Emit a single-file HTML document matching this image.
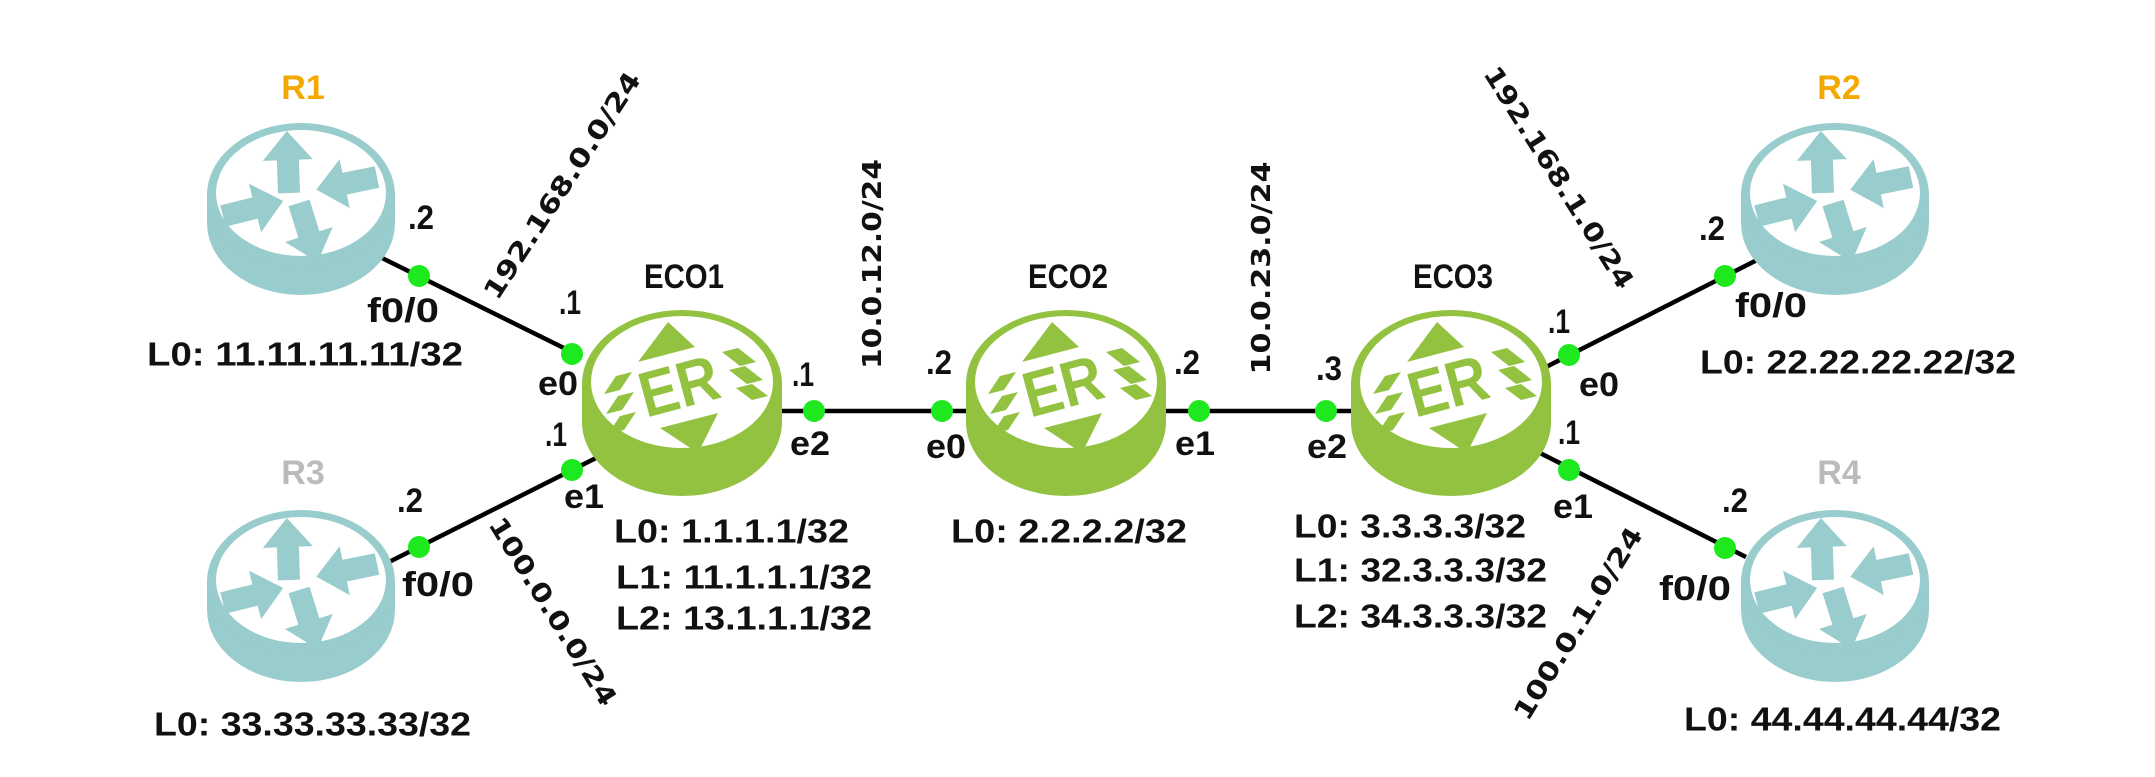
<!DOCTYPE html>
<html><head><meta charset="utf-8"><style>
html,body{margin:0;padding:0;background:#fff;width:2155px;height:777px;overflow:hidden}
svg{display:block}
.t{font-family:"Liberation Sans",sans-serif;font-weight:bold;fill:#111}
.n{font-family:"DejaVu Sans","Liberation Sans",sans-serif;font-weight:bold;fill:#111;font-size:26px}
</style></head><body>
<svg width="2155" height="777" viewBox="0 0 2155 777" xmlns="http://www.w3.org/2000/svg">
<defs>
<path id="arr" d="M0,-11 L33,-11 L33,-25 L62,0 L33,25 L33,11 L0,11 z" fill="#99cccc"/>
<g id="cisco">
<ellipse cx="0" cy="28" rx="94" ry="72" fill="#99cccc"/>
<rect x="-94" y="0" width="188" height="28" fill="#99cccc"/>
<ellipse cx="0" cy="0" rx="94" ry="72" fill="#99cccc"/>
<ellipse cx="0" cy="-2" rx="85" ry="63" fill="#fff"/>
<use href="#arr" transform="translate(-12,-2) rotate(-92)"/>
<use href="#arr" transform="translate(-2,8) rotate(72.6)"/>
<use href="#arr" transform="translate(-78,21) rotate(-14)"/>
<use href="#arr" transform="translate(76,-18) rotate(168.3)"/>
</g>
<g id="eco">
<ellipse cx="0" cy="38" rx="100" ry="74" fill="#93c240"/>
<rect x="-100" y="0" width="200" height="38" fill="#93c240"/>
<ellipse cx="0" cy="0" rx="100" ry="74" fill="#93c240"/>
<ellipse cx="0" cy="-2" rx="91" ry="66" fill="#fff"/>
<g fill="#93c240">
<polygon points="-14,-62 -44,-22 13,-37"/>
<polygon points="-22,44 36,29 16,69"/>
<text x="-2" y="24" text-anchor="middle" transform="rotate(-15 -2 6)" font-family="Liberation Sans,sans-serif" font-weight="bold" font-size="64" textLength="80" lengthAdjust="spacingAndGlyphs">ER</text>
<polygon points="-66,-8 -50,-12 -62,6 -78,10"/>
<polygon points="-64,12 -48,8 -60,26 -76,30"/>
<polygon points="-62,32 -46,28 -58,46 -74,50"/>
<polygon points="40,-32 56,-36 74,-22 58,-18"/>
<polygon points="47,-14 63,-18 81,-4 65,0"/>
<polygon points="54,4 70,0 86,12 70,16"/>
</g>
</g>
</defs>

<g stroke="#000" stroke-width="4.5">
<line x1="382" y1="258" x2="580" y2="356"/>
<line x1="389" y1="562" x2="596" y2="458"/>
<line x1="780" y1="411" x2="968" y2="411"/>
<line x1="1164" y1="411" x2="1354" y2="411"/>
<line x1="1546" y1="367" x2="1757" y2="260"/>
<line x1="1536" y1="451" x2="1746" y2="557"/>
</g>

<use href="#cisco" x="301" y="195"/>
<use href="#cisco" x="301" y="582"/>
<use href="#cisco" x="1835" y="195"/>
<use href="#cisco" x="1835" y="582"/>
<use href="#eco" x="682" y="384"/>
<use href="#eco" x="1066" y="384"/>
<use href="#eco" x="1451" y="384"/>

<g fill="#1ee81e">
<circle cx="419" cy="276" r="11"/>
<circle cx="572" cy="354" r="11"/>
<circle cx="572" cy="470" r="11"/>
<circle cx="419" cy="547" r="11"/>
<circle cx="814" cy="411" r="11"/>
<circle cx="942" cy="411" r="11"/>
<circle cx="1199" cy="411" r="11"/>
<circle cx="1326" cy="411" r="11"/>
<circle cx="1569" cy="355" r="11"/>
<circle cx="1725" cy="276" r="11"/>
<circle cx="1569" cy="470" r="11"/>
<circle cx="1725" cy="548" r="11"/>
</g>

<g class="t" font-size="34" text-anchor="middle" dominant-baseline="central">
<text x="303" y="88" style="fill:#f5a800">R1</text>
<text x="303" y="473" style="fill:#bbbbbb">R3</text>
<text x="1839" y="88" style="fill:#f5a800">R2</text>
<text x="1839" y="473" style="fill:#bbbbbb">R4</text>
<text x="684" y="277" textLength="80" lengthAdjust="spacingAndGlyphs">ECO1</text>
<text x="1068" y="277" textLength="80" lengthAdjust="spacingAndGlyphs">ECO2</text>
<text x="1453" y="277" textLength="80" lengthAdjust="spacingAndGlyphs">ECO3</text>
</g>

<g class="t" font-size="34" text-anchor="middle" dominant-baseline="central">
<text x="421" y="218" textLength="26" lengthAdjust="spacingAndGlyphs">.2</text>
<text x="403" y="311" textLength="72" lengthAdjust="spacingAndGlyphs">f0/0</text>
<text x="570" y="303" textLength="22" lengthAdjust="spacingAndGlyphs">.1</text>
<text x="558" y="384" textLength="40" lengthAdjust="spacingAndGlyphs">e0</text>
<text x="556" y="435" textLength="22" lengthAdjust="spacingAndGlyphs">.1</text>
<text x="584" y="497" textLength="40" lengthAdjust="spacingAndGlyphs">e1</text>
<text x="410" y="501" textLength="26" lengthAdjust="spacingAndGlyphs">.2</text>
<text x="438" y="585" textLength="72" lengthAdjust="spacingAndGlyphs">f0/0</text>
<text x="803" y="375" textLength="22" lengthAdjust="spacingAndGlyphs">.1</text>
<text x="810" y="444" textLength="40" lengthAdjust="spacingAndGlyphs">e2</text>
<text x="939" y="363" textLength="26" lengthAdjust="spacingAndGlyphs">.2</text>
<text x="946" y="447" textLength="40" lengthAdjust="spacingAndGlyphs">e0</text>
<text x="1187" y="363" textLength="26" lengthAdjust="spacingAndGlyphs">.2</text>
<text x="1195" y="444" textLength="40" lengthAdjust="spacingAndGlyphs">e1</text>
<text x="1329" y="369" textLength="26" lengthAdjust="spacingAndGlyphs">.3</text>
<text x="1327" y="447" textLength="40" lengthAdjust="spacingAndGlyphs">e2</text>
<text x="1559" y="322" textLength="22" lengthAdjust="spacingAndGlyphs">.1</text>
<text x="1599" y="385" textLength="40" lengthAdjust="spacingAndGlyphs">e0</text>
<text x="1569" y="433" textLength="22" lengthAdjust="spacingAndGlyphs">.1</text>
<text x="1573" y="507" textLength="40" lengthAdjust="spacingAndGlyphs">e1</text>
<text x="1712" y="229" textLength="26" lengthAdjust="spacingAndGlyphs">.2</text>
<text x="1771" y="306" textLength="72" lengthAdjust="spacingAndGlyphs">f0/0</text>
<text x="1735" y="501" textLength="26" lengthAdjust="spacingAndGlyphs">.2</text>
<text x="1695" y="589" textLength="72" lengthAdjust="spacingAndGlyphs">f0/0</text>
</g>

<g class="t" font-size="33" dominant-baseline="central">
<text x="147" y="354" textLength="316" lengthAdjust="spacingAndGlyphs">L0: 11.11.11.11/32</text>
<text x="154" y="724" textLength="317" lengthAdjust="spacingAndGlyphs">L0: 33.33.33.33/32</text>
<text x="614" y="531" textLength="235" lengthAdjust="spacingAndGlyphs">L0: 1.1.1.1/32</text>
<text x="616" y="577" textLength="256" lengthAdjust="spacingAndGlyphs">L1: 11.1.1.1/32</text>
<text x="616" y="618" textLength="256" lengthAdjust="spacingAndGlyphs">L2: 13.1.1.1/32</text>
<text x="951" y="531" textLength="236" lengthAdjust="spacingAndGlyphs">L0: 2.2.2.2/32</text>
<text x="1294" y="526" textLength="232" lengthAdjust="spacingAndGlyphs">L0: 3.3.3.3/32</text>
<text x="1294" y="570" textLength="253" lengthAdjust="spacingAndGlyphs">L1: 32.3.3.3/32</text>
<text x="1294" y="616" textLength="253" lengthAdjust="spacingAndGlyphs">L2: 34.3.3.3/32</text>
<text x="1700" y="362" textLength="316" lengthAdjust="spacingAndGlyphs">L0: 22.22.22.22/32</text>
<text x="1684" y="719" textLength="317" lengthAdjust="spacingAndGlyphs">L0: 44.44.44.44/32</text>
</g>

<g class="n" text-anchor="middle" dominant-baseline="central">
<text x="0" y="0" transform="translate(563,186) rotate(-57)" textLength="265" lengthAdjust="spacingAndGlyphs">192.168.0.0/24</text>
<text x="0" y="0" transform="translate(552,612) rotate(58)" textLength="217" lengthAdjust="spacingAndGlyphs">100.0.0.0/24</text>
<text x="0" y="0" transform="translate(873,264) rotate(-90)" textLength="210" lengthAdjust="spacingAndGlyphs">10.0.12.0/24</text>
<text x="0" y="0" transform="translate(1262,268) rotate(-90)" textLength="213" lengthAdjust="spacingAndGlyphs">10.0.23.0/24</text>
<text x="0" y="0" transform="translate(1558,178) rotate(57.8)" textLength="257" lengthAdjust="spacingAndGlyphs">192.168.1.0/24</text>
<text x="0" y="0" transform="translate(1579,624) rotate(-58.4)" textLength="221" lengthAdjust="spacingAndGlyphs">100.0.1.0/24</text>
</g>
</svg>
</body></html>
